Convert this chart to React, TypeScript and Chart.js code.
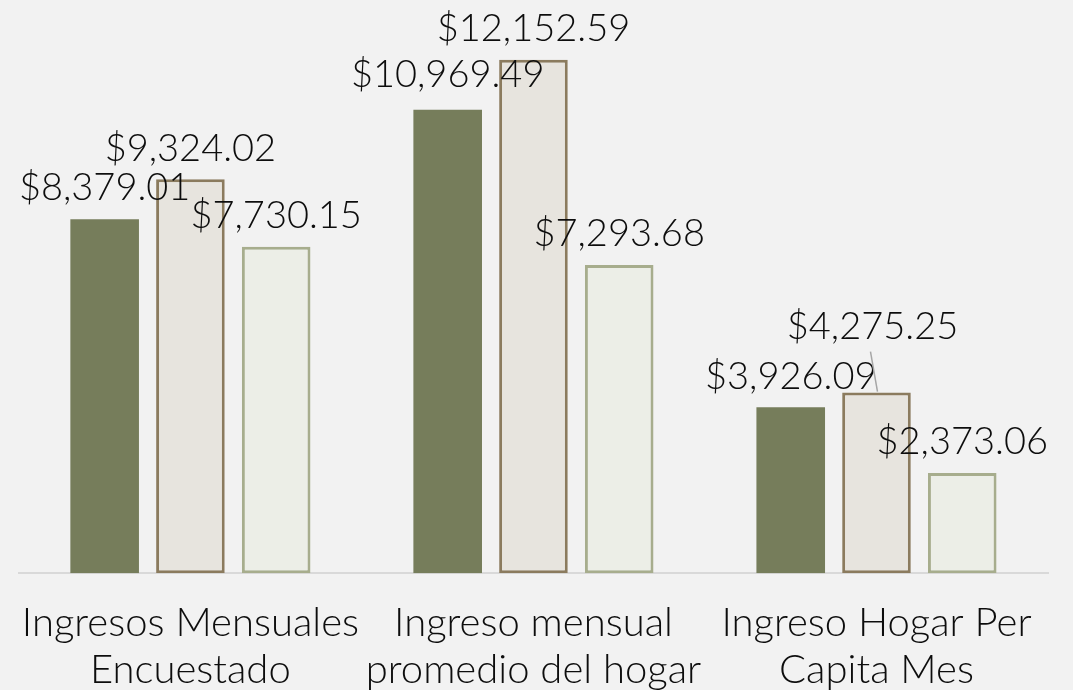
import React, { useEffect, useRef } from "react";
import { Chart, registerables } from "chart.js";

Chart.register(...registerables);

const categories: string[][] = [
  ["Ingresos Mensuales", "Encuestado"],
  ["Ingreso mensual", "promedio del hogar"],
  ["Ingreso Hogar Per", "Capita Mes"],
];
const seriesA: number[] = [8379.01, 10969.49, 3926.09];
const seriesB: number[] = [9324.02, 12152.59, 4275.25];
const seriesC: number[] = [7730.15, 7293.68, 2373.06];

const FONT = "Lato, 'Noto Sans', sans-serif";
const FONT_SIZE = 38;
const TICK_SIZE = 40;
const FONT_WEIGHT = 300;

const fmt = (v: number) =>
  "$" + v.toLocaleString("en-US", { minimumFractionDigits: 2, maximumFractionDigits: 2 });

// label shifts (dataset index, point index) -> [dx, dy, leader]
const labelShift: Record<string, [number, number, boolean]> = {
  "1-2": [-4, -35, true],
  "0-1": [0, -4, false],
};

const valueLabels = {
  id: "valueLabels",
  afterDatasetsDraw(chart: any) {
    const ctx = chart.ctx;
    ctx.save();
    ctx.font = `${FONT_WEIGHT} ${FONT_SIZE}px ${FONT}`;
    ctx.fillStyle = "#0d0d0d";
    ctx.textAlign = "center";
    ctx.textBaseline = "middle";
    chart.data.datasets.forEach((ds: any, di: number) => {
      const meta = chart.getDatasetMeta(di);
      meta.data.forEach((bar: any, i: number) => {
        const shift = labelShift[`${di}-${i}`] || [0, 0, false];
        const x = bar.x + shift[0];
        const y = bar.y - 31 + shift[1];
        if (shift[2]) {
          ctx.strokeStyle = "#a6a6a6";
          ctx.lineWidth = 1.5;
          ctx.beginPath();
          ctx.moveTo(x - 2, y + 25);
          ctx.lineTo(bar.x + 1, bar.y - 1);
          ctx.stroke();
        }
        ctx.fillText(fmt(ds.data[i]), x, y);
      });
    });
    ctx.restore();
  },
};

export default function App() {
  const ref = useRef<HTMLCanvasElement>(null);
  useEffect(() => {
    if (!ref.current) return;
    const chart = new Chart(ref.current, {
      type: "bar",
      data: {
        labels: categories,
        datasets: [
          {
            data: seriesA,
            backgroundColor: "#767d5b",
            borderWidth: 0,
          },
          {
            data: seriesB,
            backgroundColor: "#e7e4de",
            borderColor: "#8b7b5e",
            borderWidth: 3,
            borderSkipped: false,
          },
          {
            data: seriesC,
            backgroundColor: "#eceee7",
            borderColor: "#a7ad8d",
            borderWidth: 3,
            borderSkipped: false,
          },
        ],
      },
      options: {
        animation: false,
        responsive: true,
        maintainAspectRatio: false,
        layout: { padding: { top: 24, left: 17, right: 25, bottom: -22 } },
        datasets: { bar: { categoryPercentage: 0.75, barPercentage: 0.8 } },
        plugins: { legend: { display: false }, tooltip: { enabled: false } },
        scales: {
          y: { display: false, min: 0, max: 13000 },
          x: {
            grid: { display: false },
            border: { display: true, color: "#d9d9d9", width: 2 },
            ticks: {
              color: "#0d0d0d",
              font: { family: FONT, size: TICK_SIZE, weight: FONT_WEIGHT, lineHeight: 1.16 },
              padding: 19,
              maxRotation: 0,
              autoSkip: false,
            },
          },
        },
      },
      plugins: [valueLabels],
    });
    return () => chart.destroy();
  }, []);
  return (
    <div
      style={{
        position: "absolute",
        left: 0,
        top: 0,
        width: 1073,
        height: 690,
        background: "#f2f2f2",
      }}
    >
      <canvas ref={ref} />
    </div>
  );
}
